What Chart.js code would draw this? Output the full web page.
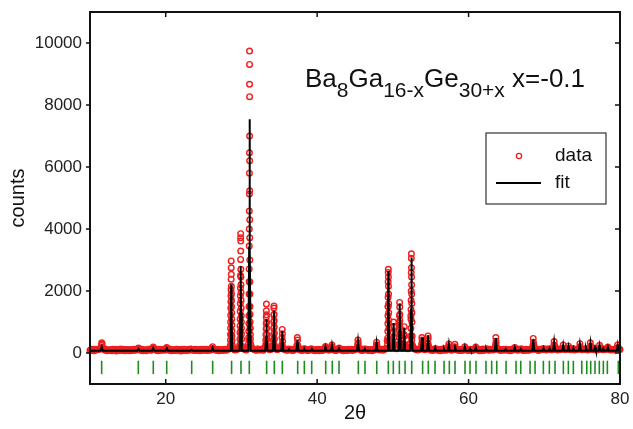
<!DOCTYPE html>
<html>
<head>
<meta charset="utf-8">
<title>Ba8Ga16-xGe30+x powder pattern</title>
<script src="https://cdn.jsdelivr.net/npm/chart.js@4.4.1/dist/chart.umd.min.js"></script>
<style>
  html, body { margin: 0; padding: 0; background: #fff; }
  #xrd { display: block; }
</style>
</head>
<body>
<canvas id="xrd" width="633" height="429"></canvas>
<script>
// Powder diffraction pattern: observed counts (open circles), refined
// profile (black line) and reflection positions (green markers below zero).

const xTickValues = [20, 40, 60, 80];
const yTickValues = [0, 2000, 4000, 6000, 8000, 10000];

// reflection positions, 2theta
const braggPositions = [
  11.54, 16.38, 18.36, 20.13, 23.43, 26.2, 28.7, 29.94, 31.04, 33.33, 34.34, 35.4,
  37.43, 38.31, 39.28, 41.13, 42.0, 42.89, 45.44, 46.32, 47.87, 49.4, 50.06, 50.86,
  51.61, 52.49, 53.93, 54.68, 55.57, 56.76, 57.46, 58.21, 59.53, 60.19, 60.98, 62.3,
  63.05, 63.72, 64.95, 66.27, 66.89, 68.12, 68.78, 69.88, 70.67, 71.42, 72.52, 73.18,
  73.84, 74.95, 75.61, 76.13, 76.7, 77.27, 77.8, 78.33, 79.78
];

// observed counts between the strong reflections, [2theta, counts]
const observedBackground = [
  [10,90],[10.25,118],[10.5,76],[10.75,104],[11,125],[11.25,132],[11.5,150],[11.75,140],[12,96],[12.25,72],
  [12.5,84],[12.75,112],[13,121],[13.25,80],[13.5,68],[13.75,105],[14,126],[14.25,78],[14.5,95],[14.75,114],
  [15,82],[15.25,70],[15.5,104],[15.75,124],[16,88],[16.25,128],[16.5,134],[16.75,92],[17,72],[17.25,108],
  [17.5,86],[17.75,118],[18,90],[18.25,138],[18.5,142],[18.75,94],[19,74],[19.25,112],[19.5,86],[19.75,120],
  [20,132],[20.25,140],[20.5,90],[20.75,70],[21,108],[21.25,82],[21.5,118],[21.75,92],[22,68],[22.25,102],
  [22.5,122],[22.75,84],[23,104],[23.25,126],[23.5,110],[23.75,78],[24,96],[24.25,116],[24.5,72],[24.75,92],
  [25,120],[25.25,100],[25.5,80],[25.75,110],[26,130],[26.25,140],[26.5,118],[26.75,88],[27,74],[27.25,112],
  [27.5,90],[27.75,122],[28,100],[28.25,126],[28.5,180],[28.75,240],[29,132],[29.25,108],[29.5,128],[29.75,190],
  [30,230],[30.25,134],[30.5,114],[30.75,160],[31,420],[31.25,250],[31.5,138],[31.75,112],[32,90],[32.25,118],
  [32.5,100],[32.75,128],[33,140],[33.25,300],[33.5,150],[33.75,104],[34,134],[34.25,280],[34.5,160],[34.75,110],
  [35,136],[35.25,180],[35.5,170],[35.75,104],[36,88],[36.25,132],[36.5,96],[36.75,80],[37,118],[37.25,150],
  [37.5,160],[37.75,96],[38,84],[38.25,138],[38.5,120],[38.75,78],[39,100],[39.25,134],[39.5,108],[39.75,76],
  [40,96],[40.25,72],[40.5,112],[40.75,88],[41,140],[41.25,136],[41.5,94],[41.75,128],[42,150],[42.25,100],
  [42.5,84],[42.75,126],[43,134],[43.25,90],[43.5,76],[43.75,110],[44,80],[44.25,104],[44.5,124],[44.75,86],
  [45,112],[45.25,150],[45.5,170],[45.75,100],[46,82],[46.25,130],[46.5,118],[46.75,80],[47,106],[47.25,76],
  [47.5,98],[47.75,140],[48,136],[48.25,94],[48.5,122],[48.75,100],[49,136],[49.25,400],[49.5,380],[49.75,160],
  [50,220],[50.25,170],[50.5,140],[50.75,260],[51,330],[51.25,150],[51.5,180],[51.75,200],[52,140],[52.25,300],
  [52.5,420],[52.75,160],[53,128],[53.25,94],[53.5,120],[53.75,150],[54,140],[54.25,104],[54.5,160],[54.75,170],
  [55,96],[55.25,84],[55.5,126],[55.75,132],[56,92],[56.25,74],[56.5,112],[56.75,134],[57,88],[57.25,126],
  [57.5,140],[57.75,92],[58,118],[58.25,146],[58.5,96],[58.75,80],[59,110],[59.25,90],[59.5,134],[59.75,100],
  [60,84],[60.25,124],[60.5,78],[60.75,110],[61,136],[61.25,96],[61.5,74],[61.75,106],[62,82],[62.25,122],
  [62.5,126],[62.75,86],[63,112],[63.25,96],[63.5,150],[63.75,160],[64,114],[64.25,80],[64.5,104],[64.75,92],
  [65,124],[65.25,88],[65.5,76],[65.75,108],[66,130],[66.25,134],[66.5,90],[66.75,112],[67,126],[67.25,84],
  [67.5,78],[67.75,110],[68,92],[68.25,118],[68.5,145],[68.75,150],[69,112],[69.25,84],[69.5,110],[69.75,126],
  [70,132],[70.25,94],[70.5,116],[70.75,130],[71,108],[71.25,150],[71.5,140],[71.75,100],[72,118],[72.25,124],
  [72.5,150],[72.75,110],[73,132],[73.25,150],[73.5,104],[73.75,136],[74,98],[74.25,116],[74.5,132],[74.75,150],
  [75,108],[75.25,120],[75.5,136],[75.75,100],[76,140],[76.25,145],[76.5,104],[76.75,138],[77,98],[77.25,140],
  [77.5,134],[77.75,106],[78,120],[78.25,132],[78.5,140],[78.75,98],[79,116],[79.25,100],[79.5,140],[79.75,150],[80,112]
];

// scan points lying between the ones above, [2theta, counts]
const observedBackgroundMid = [
  [10.125,108],[10.375,84],[10.625,120],[10.875,94],[11.125,112],[11.375,146],[11.625,170],[11.875,104],[12.125,118],[12.375,86],
  [12.625,100],[12.875,74],[13.125,110],[13.375,124],[13.625,92],[13.875,80],[14.125,112],[14.375,122],[14.625,76],[14.875,98],
  [15.125,116],[15.375,94],[15.625,78],[15.875,110],[16.125,120],[16.375,140],[16.625,100],[16.875,118],[17.125,90],[17.375,76],
  [17.625,104],[17.875,124],[18.125,98],[18.375,150],[18.625,110],[18.875,80],[19.125,122],[19.375,96],[19.625,110],[19.875,88],
  [20.125,150],[20.375,104],[20.625,118],[20.875,96],[21.125,80],[21.375,120],[21.625,86],[21.875,110],[22.125,124],[22.375,82],
  [22.625,96],[22.875,116],[23.125,88],[23.375,120],[23.625,98],[23.875,124],[24.125,80],[24.375,104],[24.625,118],[24.875,86],
  [25.125,96],[25.375,124],[25.625,104],[25.875,90],[26.125,150],[26.375,120],[26.625,96],[26.875,122],[27.125,100],[27.375,84],
  [27.625,112],[27.875,88],[28.125,116],[28.375,140],[28.625,600],[28.875,150],[29.125,96],[29.375,120],[29.625,140],[29.875,700],
  [30.125,160],[30.375,126],[30.625,100],[30.875,180],[31.125,800],[31.375,160],[31.625,120],[31.875,96],[32.125,128],[32.375,104],
  [32.625,118],[32.875,92],[33.125,170],[33.375,240],[33.625,126],[33.875,118],[34.125,180],[34.375,240],[34.625,124],[34.875,140],
  [35.125,150],[35.375,260],[35.625,130],[35.875,120],[36.125,100],[36.375,116],[36.625,124],[36.875,92],[37.125,130],[37.375,260],
  [37.625,120],[37.875,110],[38.125,102],[38.375,130],[38.625,90],[38.875,116],[39.125,120],[39.375,96],[39.625,84],[39.875,110],
  [40.125,120],[40.375,90],[40.625,80],[40.875,112],[41.125,180],[41.375,110],[41.625,100],[41.875,150],[42.125,124],[42.375,92],
  [42.625,110],[42.875,140],[43.125,104],[43.375,118],[43.625,92],[43.875,84],[44.125,120],[44.375,98],[44.625,90],[44.875,116],
  [45.125,130],[45.375,280],[45.625,126],[45.875,90],[46.125,118],[46.375,124],[46.625,96],[46.875,110],[47.125,88],[47.375,116],
  [47.625,124],[47.875,240],[48.125,110],[48.375,118],[48.625,96],[48.875,120],[49.125,150],[49.375,1500],[49.625,170],[49.875,200],
  [50.125,500],[50.375,150],[50.625,180],[50.875,900],[51.125,200],[51.375,170],[51.625,160],[51.875,150],[52.125,180],[52.375,1200],
  [52.625,200],[52.875,130],[53.125,110],[53.375,118],[53.625,126],[53.875,300],[54.125,120],[54.375,134],[54.625,320],[54.875,130],
  [55.125,118],[55.375,100],[55.625,140],[55.875,96],[56.125,110],[56.375,124],[56.625,90],[56.875,112],[57.125,104],[57.375,200],
  [57.625,116],[57.875,126],[58.125,150],[58.375,112],[58.625,124],[58.875,100],[59.125,88],[59.375,118],[59.625,120],[59.875,96],
  [60.125,110],[60.375,100],[60.625,124],[60.875,140],[61.125,108],[61.375,120],[61.625,92],[61.875,126],[62.125,104],[62.375,130],
  [62.625,100],[62.875,124],[63.125,110],[63.375,120],[63.625,300],[63.875,118],[64.125,96],[64.375,116],[64.625,124],[64.875,110],
  [65.125,100],[65.375,116],[65.625,124],[65.875,96],[66.125,140],[66.375,110],[66.625,120],[66.875,130],[67.125,100],[67.375,110],
  [67.625,124],[67.875,96],[68.125,120],[68.375,110],[68.625,260],[68.875,120],[69.125,100],[69.375,124],[69.625,108],[69.875,140],
  [70.125,110],[70.375,126],[70.625,130],[70.875,104],[71.125,124],[71.375,240],[71.625,118],[71.875,126],[72.125,110],[72.375,140],
  [72.625,130],[72.875,120],[73.125,140],[73.375,118],[73.625,126],[73.875,140],[74.125,110],[74.375,124],[74.625,160],[74.875,120],
  [75.125,126],[75.375,110],[75.625,140],[75.875,124],[76.125,200],[76.375,118],[76.625,130],[76.875,120],[77.125,112],[77.375,160],
  [77.625,120],[77.875,130],[78.125,112],[78.375,150],[78.625,126],[78.875,110],[79.125,124],[79.375,118],[79.625,160],[79.875,130]
];

// observed counts on the reflections, [2theta, counts]
const observedPeaks = [
  [11.52,250],[11.55,330],[11.6,290],[11.65,180],
  [16.4,160],[18.35,195],[20.13,180],[26.18,205],
  [28.53,250],[28.55,420],[28.56,600],[28.57,800],[28.58,1000],[28.59,1220],[28.6,1450],[28.61,1650],
  [28.62,1850],[28.63,2050],[28.64,2380],
  [28.65,2970],[28.65,2750],[28.66,2540],
  [28.67,2150],[28.68,1920],[28.69,1700],[28.7,1500],[28.71,1300],[28.72,1100],[28.73,900],[28.74,720],
  [28.75,550],[28.76,400],[28.78,260],
  [29.78,260],[29.8,450],[29.81,650],[29.82,880],[29.83,1100],[29.84,1350],[29.85,1600],[29.86,1850],
  [29.87,2100],[29.88,2500],[29.89,3020],
  [29.9,3850],[29.9,3720],[29.91,3610],[29.91,3290],
  [29.92,2700],[29.93,2450],[29.94,2200],[29.95,1950],[29.96,1700],[29.97,1450],[29.98,1200],[29.99,1000],
  [30,800],[30.01,620],[30.03,450],[30.06,220],
  [30.94,300],[30.96,500],[30.97,700],[30.98,950],[30.99,1200],[31,1500],[31.01,1900],[31.015,2300],
  [31.02,2710],[31.03,3450],[31.035,4000],[31.04,4580],[31.05,5130],[31.055,5800],[31.06,6460],
  [31.07,9740],[31.07,9310],[31.07,8670],[31.08,8270],
  [31.08,7000],[31.085,6200],[31.09,5230],[31.095,4300],[31.1,3720],[31.105,3000],[31.11,2300],
  [31.12,1900],[31.13,1500],[31.14,1250],[31.15,1000],[31.165,800],[31.18,600],[31.19,450],[31.21,300],
  [33.2,250],[33.22,420],[33.24,600],[33.26,780],[33.27,950],[33.28,1150],[33.29,1360],[33.3,1580],
  [33.31,1230],[33.32,1000],[33.33,800],[33.35,600],[33.36,450],[33.4,200],
  [34.2,250],[34.22,420],[34.24,600],[34.26,800],[34.27,1000],[34.28,1220],[34.29,1450],[34.3,1520],
  [34.31,1250],[34.32,1050],[34.33,850],[34.35,640],[34.36,450],[34.4,200],
  [35.32,250],[35.36,500],[35.39,760],[35.41,620],[35.44,380],[35.48,180],
  [37.34,250],[37.38,500],[37.41,420],[37.45,230],
  [41.1,210],[41.93,200],[41.96,255],[42.9,160],
  [45.36,260],[45.39,420],[45.42,330],[45.46,180],
  [47.82,240],[47.85,350],[47.88,260],
  [49.3,280],[49.32,480],[49.33,700],[49.34,950],[49.35,1200],[49.36,1500],[49.37,1800],[49.38,2300],
  [49.39,2600],[49.4,2700],
  [49.41,2450],[49.42,2150],[49.43,1900],[49.44,1600],[49.45,1300],[49.46,1050],[49.47,800],[49.5,400],
  [50.03,300],[50.06,650],[50.09,1000],[50.11,850],[50.14,500],[50.18,250],
  [50.82,300],[50.84,520],[50.85,750],[50.86,980],[50.87,1200],[50.89,1630],[50.91,1480],[50.92,1250],
  [50.93,1050],[50.95,820],[50.96,600],[51,280],
  [51.44,300],[51.47,600],[51.5,850],[51.53,550],[51.57,260],
  [52.35,300],[52.37,550],[52.38,800],[52.39,1100],[52.4,1400],[52.41,1700],[52.42,2000],[52.43,2600],
  [52.44,3060],[52.45,3200],
  [52.46,2750],[52.47,2450],[52.48,2200],[52.49,1900],[52.5,1600],[52.51,1300],[52.52,1000],[52.55,550],[52.59,250],
  [53.8,280],[53.84,500],[53.87,420],[53.91,220],
  [54.6,300],[54.64,550],[54.67,470],[54.71,230],
  [57.37,200],[57.4,290],[58.17,200],[58.2,280],[59.5,200],[60.95,190],
  [63.56,260],[63.6,500],[63.63,380],[63.67,200],
  [66.1,180],
  [68.5,240],[68.54,470],[68.57,350],[68.61,200],
  [71.27,260],[71.3,370],[72.5,260],[73.2,220],
  [74.7,300],[74.73,200],[76.08,330],[76.12,220],
  [77.3,250],[78.4,190],[79.68,260],[79.72,180]
];

// refined profile, [2theta, counts]
const fitted = [
  [10,75],
  [11.4,75],[11.55,200],[11.7,75],
  [16.25,72],[16.4,130],[16.55,72],
  [18.2,72],[18.35,160],[18.5,72],
  [20,72],[20.15,150],[20.3,72],
  [23.25,70],[23.4,100],[23.55,70],
  [26.05,70],[26.2,170],[26.35,70],
  [28.5,72],[28.6,1000],[28.65,2215],[28.7,1000],[28.8,72],
  [29.75,72],[29.85,1300],[29.9,2800],[29.95,1300],[30.05,72],
  [30.92,75],[31.02,3400],[31.07,7540],[31.12,3400],[31.22,75],
  [33.15,72],[33.25,500],[33.3,1090],[33.35,500],[33.45,72],
  [34.15,72],[34.25,620],[34.3,1360],[34.35,620],[34.45,72],
  [35.27,72],[35.4,710],[35.53,72],
  [36.18,70],[36.3,120],[36.42,70],
  [37.27,70],[37.4,420],[37.53,70],
  [38.18,70],[38.3,140],[38.42,70],
  [39.18,70],[39.3,130],[39.42,70],
  [40.98,70],[41.1,200],[41.22,70],
  [41.83,70],[41.95,260],[42.07,70],
  [42.78,70],[42.9,150],[43.02,70],
  [45.27,70],[45.4,380],[45.53,70],
  [46.18,70],[46.3,130],[46.42,70],
  [47.72,70],[47.85,330],[47.98,70],
  [49.25,72],[49.35,1200],[49.4,2650],[49.45,1200],[49.55,72],
  [49.98,72],[50.1,970],[50.22,72],
  [50.77,72],[50.85,720],[50.9,1600],[50.95,720],[51.03,75],
  [51.38,72],[51.5,820],[51.62,72],
  [52.3,72],[52.4,1400],[52.45,3080],[52.5,1400],[52.6,72],
  [53.72,70],[53.85,500],[53.98,70],
  [54.52,70],[54.65,560],[54.78,70],
  [55.48,70],[55.6,170],[55.72,70],
  [56.63,70],[56.75,140],[56.87,70],
  [57.28,70],[57.4,290],[57.52,70],
  [58.08,70],[58.2,270],[58.32,70],
  [59.38,70],[59.5,200],[59.62,70],
  [60.08,70],[60.2,130],[60.32,70],
  [60.83,70],[60.95,190],[61.07,70],
  [62.18,70],[62.3,140],[62.42,70],
  [63.47,70],[63.6,480],[63.73,70],
  [64.78,70],[64.9,120],[65.02,70],
  [65.98,70],[66.1,180],[66.22,70],
  [66.78,70],[66.9,130],[67.02,70],
  [68.42,70],[68.55,440],[68.68,70],
  [69.78,70],[69.9,160],[70.02,70],
  [70.58,70],[70.7,150],[70.82,70],
  [71.17,70],[71.3,360],[71.43,70],
  [72.37,70],[72.5,260],[72.63,70],
  [73.07,70],[73.2,220],[73.33,70],
  [73.73,70],[73.85,160],[73.97,70],
  [74.57,70],[74.7,300],[74.83,70],
  [75.38,70],[75.5,170],[75.62,70],
  [75.97,70],[76.1,330],[76.23,70],
  [76.58,70],[76.7,180],[76.82,70],
  [77.17,70],[77.3,250],[77.43,70],
  [77.68,70],[77.8,150],[77.92,70],
  [78.27,70],[78.4,190],[78.53,70],
  [79.57,70],[79.7,260],[79.83,70],
  [80,70]
];

const FONT = "'Liberation Sans', Arial, Helvetica, sans-serif";
const RED = '#f01e1e';
const GREEN = '#1f8c1f';
const braggLevel = -465;   // counts level of the reflection markers

const toPoints = pairs => pairs.map(p => ({ x: p[0], y: p[1] }));

// formula label: [text, subscript?]
const formulaParts = [
  ['Ba', false], ['8', true], ['Ga', false], ['16-x', true],
  ['Ge', false], ['30+x', true], [' x=-0.1', false]
];

// frame with ticks, formula label and legend box
const frameAndLabels = {
  id: 'frameAndLabels',
  afterDraw(chart) {
    const { ctx, chartArea: a, scales: { x, y } } = chart;
    ctx.save();

    ctx.strokeStyle = '#111';
    ctx.lineWidth = 2;
    ctx.strokeRect(a.left, a.top, a.right - a.left, a.bottom - a.top);

    ctx.lineWidth = 1.5;
    ctx.beginPath();
    xTickValues.forEach(v => {
      const px = x.getPixelForValue(v);
      ctx.moveTo(px, a.bottom); ctx.lineTo(px, a.bottom - 5);
      ctx.moveTo(px, a.top); ctx.lineTo(px, a.top + 5);
    });
    yTickValues.forEach(v => {
      const py = y.getPixelForValue(v);
      ctx.moveTo(a.left - 4, py); ctx.lineTo(a.left, py);
      ctx.moveTo(a.right, py); ctx.lineTo(a.right - 5, py);
    });
    ctx.stroke();

    // formula
    ctx.fillStyle = '#111';
    ctx.textBaseline = 'alphabetic';
    ctx.textAlign = 'left';
    let tx = 305;
    formulaParts.forEach(([text, sub]) => {
      ctx.font = (sub ? '21px ' : '26px ') + FONT;
      ctx.fillText(text, tx, sub ? 96.5 : 86.5);
      tx += ctx.measureText(text).width;
    });

    // legend
    ctx.strokeStyle = '#333';
    ctx.lineWidth = 1.2;
    ctx.strokeRect(486, 133, 120, 71);
    ctx.strokeStyle = RED;
    ctx.lineWidth = 1.3;
    ctx.beginPath();
    ctx.arc(519, 156, 2.6, 0, Math.PI * 2);
    ctx.stroke();
    ctx.strokeStyle = '#000';
    ctx.lineWidth = 2;
    ctx.beginPath();
    ctx.moveTo(496, 183); ctx.lineTo(541, 183);
    ctx.stroke();
    ctx.fillStyle = '#111';
    ctx.font = '19px ' + FONT;
    ctx.textBaseline = 'middle';
    ctx.fillText('data', 555, 156);
    ctx.fillText('fit', 555, 183);

    ctx.restore();
  }
};

Chart.defaults.font.family = FONT;
Chart.defaults.color = '#222';

new Chart(document.getElementById('xrd'), {
  type: 'scatter',
  data: {
    datasets: [
      {
        label: 'fit',
        data: toPoints(fitted),
        showLine: true,
        borderColor: '#000',
        borderWidth: 2,
        pointRadius: 0,
        tension: 0,
        order: 0
      },
      {
        label: 'data',
        data: toPoints(observedBackground.concat(observedBackgroundMid, observedPeaks)),
        showLine: false,
        pointStyle: 'circle',
        pointRadius: 2.8,
        pointBorderWidth: 1.4,
        pointBorderColor: RED,
        pointBackgroundColor: 'rgba(0,0,0,0)',
        clip: false,
        order: 1
      },
      {
        label: 'reflections',
        data: braggPositions.map(v => ({ x: v, y: braggLevel })),
        showLine: false,
        pointStyle: 'line',
        pointRotation: 90,
        pointRadius: 6.7,
        pointBorderWidth: 1.6,
        pointBorderColor: GREEN,
        order: 2
      }
    ]
  },
  options: {
    responsive: false,
    animation: false,
    devicePixelRatio: 1,
    layout: { padding: { top: 12, right: 13, left: 0, bottom: 0 } },
    plugins: {
      legend: { display: false },
      tooltip: { enabled: false }
    },
    scales: {
      x: {
        type: 'linear',
        min: 10,
        max: 80,
        afterBuildTicks: s => { s.ticks = xTickValues.map(v => ({ value: v })); },
        afterFit: s => { s.height = 45; s.paddingLeft = 0; s.paddingRight = 0; },
        grid: { display: false, drawTicks: false },
        border: { display: false },
        ticks: { padding: 5, font: { size: 17 }, color: '#222', callback: v => String(v) },
        title: { display: true, text: '2θ', font: { size: 20 }, color: '#111', padding: { top: 0, bottom: 4 } }
      },
      y: {
        type: 'linear',
        min: -1000,
        max: 11000,
        afterBuildTicks: s => { s.ticks = yTickValues.map(v => ({ value: v })); },
        afterFit: s => { s.width = 90; s.paddingTop = 0; s.paddingBottom = 0; },
        grid: { display: false, drawTicks: false },
        border: { display: false },
        ticks: { padding: 8, font: { size: 17 }, color: '#222', callback: v => String(v) },
        title: { display: true, text: 'counts', font: { size: 20 }, color: '#111', padding: { top: 6, bottom: 0 } }
      }
    }
  },
  plugins: [frameAndLabels]
});
</script>
</body>
</html>
